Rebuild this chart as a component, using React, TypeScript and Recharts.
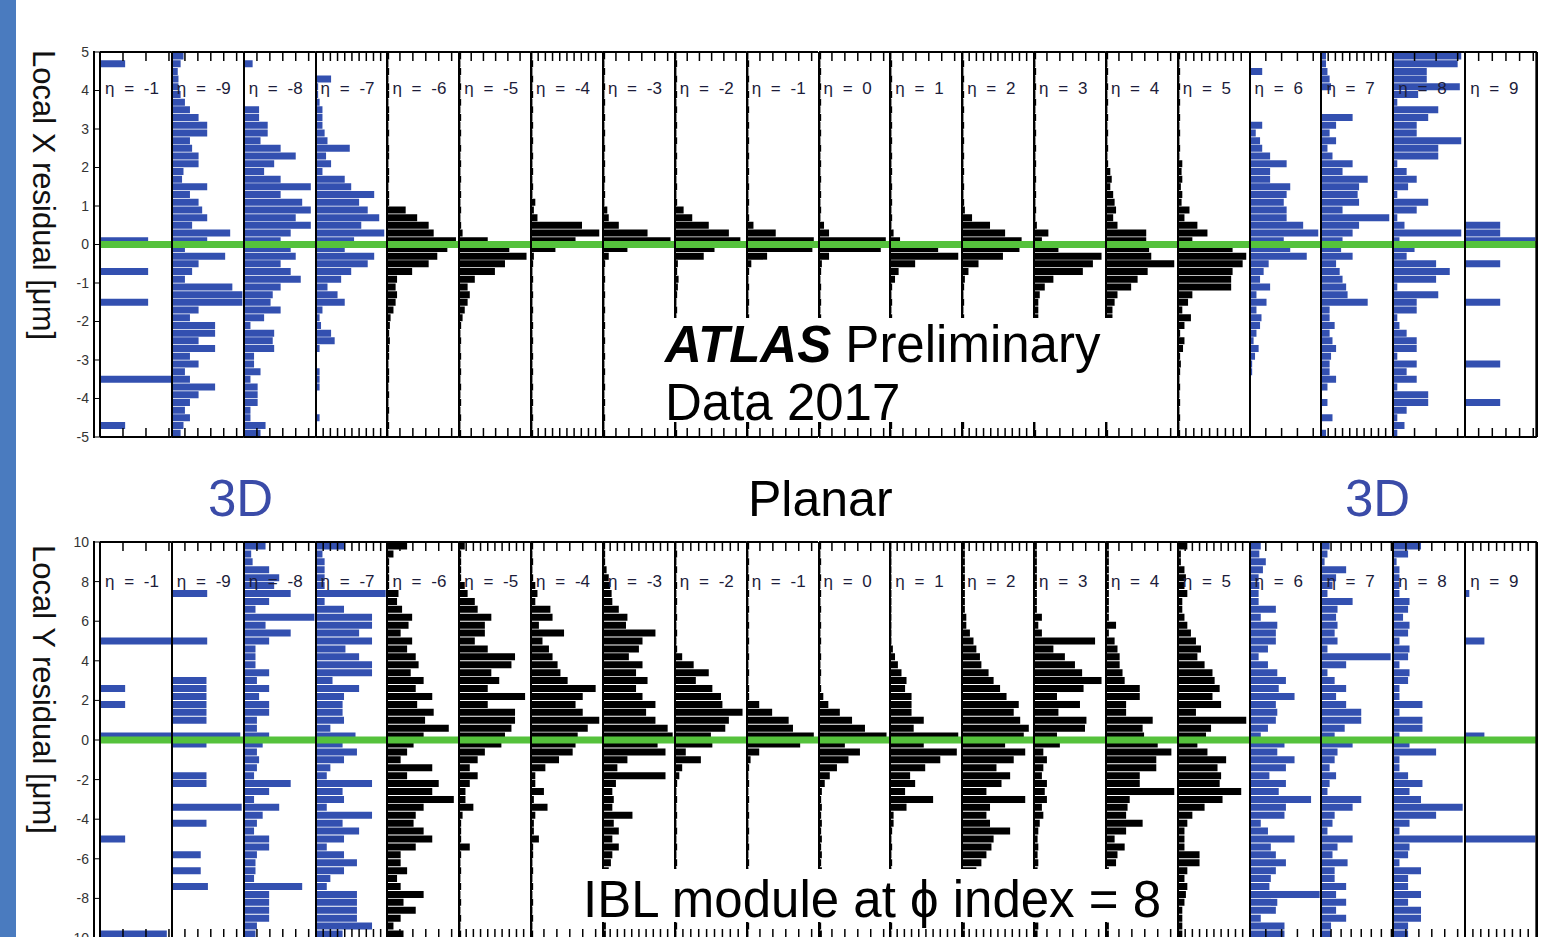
import React from "react"
import { BarChart, Bar, XAxis, YAxis, ReferenceLine } from "recharts"

const FONT = "'Liberation Sans', Arial, Helvetica, sans-serif"
const BLUE = "#3350b0"
const GREEN = "#55c23c"

const etaLabels = [
  "η = -1", "η = -9", "η = -8", "η = -7", "η = -6", "η = -5", "η = -4", "η = -3", "η = -2", "η = -1",
  "η = 0", "η = 1", "η = 2", "η = 3", "η = 4", "η = 5", "η = 6", "η = 7", "η = 8", "η = 9",
]

const panelColors = [
  BLUE, BLUE, BLUE, BLUE, "#000", "#000", "#000", "#000", "#000", "#000",
  "#000", "#000", "#000", "#000", "#000", "#000", BLUE, BLUE, BLUE, BLUE,
]

// bin centres, top bin first (Local X: 0.2 wide, Local Y: 0.4 wide)
const topBins = [
  4.9, 4.7, 4.5, 4.3, 4.1, 3.9, 3.7, 3.5, 3.3, 3.1,
  2.9, 2.7, 2.5, 2.3, 2.1, 1.9, 1.7, 1.5, 1.3, 1.1,
  0.9, 0.7, 0.5, 0.3, 0.1, -0.1, -0.3, -0.5, -0.7, -0.9,
  -1.1, -1.3, -1.5, -1.7, -1.9, -2.1, -2.3, -2.5, -2.7, -2.9,
  -3.1, -3.3, -3.5, -3.7, -3.9, -4.1, -4.3, -4.5, -4.7, -4.9,
]
const bottomBins = [
  9.8, 9.4, 9.0, 8.6, 8.2, 7.8, 7.4, 7.0, 6.6, 6.2,
  5.8, 5.4, 5.0, 4.6, 4.2, 3.8, 3.4, 3.0, 2.6, 2.2,
  1.8, 1.4, 1.0, 0.6, 0.2, -0.2, -0.6, -1.0, -1.4, -1.8,
  -2.2, -2.6, -3.0, -3.4, -3.8, -4.2, -4.6, -5.0, -5.4, -5.8,
  -6.2, -6.6, -7.0, -7.4, -7.8, -8.2, -8.6, -9.0, -9.4, -9.8,
]

const topTicks = [-5, -4, -3, -2, -1, 0, 1, 2, 3, 4, 5]
const bottomTicks = [-10, -8, -6, -4, -2, 0, 2, 4, 6, 8, 10]

// spacing of the small ticks on each panel, in % of panel width
const topTickSteps = [32, 18, 18, 10, 18, 17, 10, 18, 17, 18, 18, 18, 10, 18, 18, 11, 22, 10, 30, 19]
const bottomTickSteps = [32, 18, 18, 10, 18, 10, 18, 10, 11, 18, 18, 10, 10, 18, 18, 10, 22, 14, 18, 11]

// Local X residual histograms, bar length in % of panel width
const topEtaM10 = [0,35,0,0,0,0,0,0,0,0, 0,0,0,0,0,0,0,0,0,0, 0,0,0,0,67,0,0,0,67,0, 0,0,67,0,0,0,0,0,0,0, 0,0,100,0,0,0,0,0,35,0]
const topEtaM9 = [16,12,8,9,9,12,18,25,37,49, 49,25,28,37,37,16,14,49,25,37, 42,49,28,81,49,18,74,37,28,18, 84,98,98,37,25,60,60,37,60,25, 37,18,25,60,37,25,18,25,16,12]
const topEtaM8 = [0,12,0,0,0,0,0,21,21,33, 33,23,51,72,42,28,51,93,51,81, 93,72,93,65,51,65,72,51,65,79, 51,40,37,51,28,9,42,40,42,14, 14,23,9,19,19,19,9,9,30,23]
const topEtaM7 = [0,0,0,21,3,3,5,9,9,9, 12,16,47,14,21,9,40,49,81,60, 72,88,63,95,53,40,81,72,49,35, 16,30,40,9,5,7,21,26,5,0, 0,5,5,5,0,0,0,5,0,0]
const topEtaM6 = [3,2,3,2,3,3,2,3,3,2, 3,2,3,3,2,3,3,2,3,3, 26,42,58,65,96,84,70,58,35,14, 12,14,12,9,5,4,3,4,3,3, 2,3,3,2,3,2,3,2,3,2]
const topEtaM5 = [3,2,3,2,3,2,3,2,3,2, 3,2,3,2,3,2,3,2,3,2, 3,2,3,5,40,70,94,64,50,22, 12,15,12,8,5,3,2,3,2,3, 2,3,2,3,2,3,2,3,2,3]
const topEtaM4 = [2,3,2,3,2,3,2,3,2,3, 2,3,2,3,2,3,2,3,2,6, 4,9,71,95,62,34,4,3,2,3, 2,3,2,3,2,3,2,3,2,3, 2,3,2,3,2,3,2,3,2,3]
const topEtaM3 = [3,2,3,2,3,2,3,2,3,2, 3,2,3,2,3,2,3,2,3,2, 6,8,22,62,94,34,8,3,2,3, 2,3,2,3,2,3,2,3,2,3, 2,3,2,3,2,3,2,3,2,3]
const topEtaM2 = [2,3,2,3,2,3,2,3,2,3, 2,3,2,3,2,3,2,3,2,3, 12,24,47,75,91,55,40,4,3,5, 4,3,2,3,2,3,2,3,2,3, 2,3,2,3,2,3,2,3,2,3]
const topEtaM1 = [2,3,2,3,2,3,2,3,2,3, 2,3,2,3,2,3,2,3,2,3, 2,3,9,40,93,91,28,6,3,2, 3,2,3,2,3,2,3,2,3,2, 3,2,3,2,3,2,3,2,3,2]
const topEta0 = [3,2,3,2,3,2,3,2,3,2, 3,2,3,2,3,2,3,2,3,2, 3,2,7,14,93,86,14,4,3,2, 3,2,3,2,3,2,3,2,3,2, 3,2,3,2,3,2,3,2,3,2]
const topEta1 = [2,3,2,3,2,3,2,3,2,3, 2,3,2,3,2,3,2,3,2,3, 2,3,2,5,14,67,95,35,12,7, 3,2,3,2,3,2,3,2,3,2, 3,2,3,2,3,2,3,2,3,2]
const topEta2 = [2,3,2,3,2,3,2,3,2,3, 2,3,2,3,2,3,2,3,2,3, 4,14,39,60,83,80,57,23,9,4, 3,2,3,2,3,2,3,2,3,2, 3,2,3,2,3,2,3,2,3,2]
const topEta3 = [3,2,3,2,3,2,3,2,3,2, 3,2,3,2,3,2,3,2,3,2, 3,2,4,20,11,34,94,82,68,27, 15,8,6,6,6,3,4,3,2,3, 2,3,2,3,2,3,2,3,2,3]
const topEta4 = [3,2,3,2,3,2,3,2,3,2, 3,2,3,2,3,6,8,6,10,12, 14,10,16,56,56,60,63,95,58,44, 35,16,12,9,9,9,4,3,4,3, 2,3,2,3,2,3,2,3,2,3]
const topEta5 = [3,2,3,2,3,2,3,2,3,2, 3,2,3,2,6,5,6,4,6,5, 16,9,27,41,20,76,95,90,76,74, 74,20,14,6,18,9,3,9,7,3, 4,3,2,3,2,3,2,3,2,3]
const topEta6 = [0,0,17,0,0,0,0,0,0,17, 8,14,17,28,51,28,28,56,51,47, 51,51,74,95,47,56,79,26,19,14, 28,9,23,9,16,14,9,5,12,7, 3,3,0,0,0,0,0,0,0,0]
const topEta7 = [7,7,9,12,14,0,0,0,44,21, 12,21,9,16,44,30,65,53,51,53, 30,95,53,44,30,28,44,21,26,30, 35,37,65,12,12,19,12,16,21,14, 12,12,21,9,0,9,0,16,0,7]
const topEta8 = [95,90,47,47,93,35,6,63,49,33, 33,95,63,63,6,19,33,21,6,49, 33,6,16,95,9,30,19,60,79,60, 6,63,33,33,6,9,19,33,33,6, 33,19,33,6,49,49,19,6,16,6]
const topEta9 = [0,0,0,0,0,0,0,0,0,0, 0,0,0,0,0,0,0,0,0,0, 0,0,49,49,98,0,0,49,0,0, 0,0,49,0,0,0,0,0,0,0, 49,0,0,0,0,49,0,0,0,0]

// Local Y residual histograms, bar length in % of panel width
const botEtaM10 = [0,0,0,0,0,0,0,0,0,0, 0,0,100,0,0,0,0,0,35,0, 35,0,0,0,100,0,0,0,0,0, 0,0,0,0,0,0,0,35,0,0, 0,0,0,0,0,0,0,0,0,93]
const botEtaM9 = [0,0,0,0,0,0,49,0,0,0, 0,0,49,0,0,0,0,48,48,48, 48,48,48,0,95,48,0,0,0,48, 48,0,0,97,0,48,0,0,0,40, 0,40,0,50,0,0,0,0,0,0]
const botEtaM8 = [30,10,12,35,49,42,65,35,16,98, 30,65,35,16,16,16,35,18,35,21, 35,35,18,18,35,26,18,21,18,14, 65,35,14,49,26,18,14,35,35,18, 16,16,14,81,35,35,35,35,18,16]
const botEtaM7 = [39,9,12,12,12,12,97,12,39,78, 78,60,78,41,60,78,78,23,60,39, 37,37,39,20,55,37,57,39,20,15, 78,37,39,15,78,37,60,39,15,39, 57,39,20,15,57,57,57,57,78,37]
const botEtaM6 = [28,9,3,3,3,3,16,14,21,35, 30,19,35,28,40,44,33,51,40,63, 42,65,53,86,51,37,28,19,63,28, 72,63,93,51,40,37,51,63,40,19, 19,28,14,19,51,23,40,19,9,23]
const botEtaM5 = [8,3,3,3,3,8,12,22,26,45, 36,36,22,40,78,73,45,56,40,92, 40,78,78,73,64,59,36,26,15,26, 15,9,9,20,5,3,3,3,15,3, 2,3,2,3,2,3,2,3,2,3]
const botEtaM4 = [3,2,3,2,3,6,9,6,27,30, 11,46,16,25,30,37,41,51,90,72, 62,72,95,79,65,62,58,39,20,6, 6,18,4,23,6,4,4,11,3,3, 2,3,2,3,2,3,2,3,2,3]
const botEtaM3 = [3,3,3,5,8,10,12,13,22,34, 32,73,55,50,36,55,46,62,46,55, 73,60,73,90,97,76,87,34,20,87, 18,13,15,13,41,15,22,13,22,13, 11,8,8,8,6,5,5,4,4,4]
const botEtaM2 = [2,3,2,3,2,3,2,3,2,3, 2,3,2,3,10,26,47,29,52,64, 66,94,75,70,50,52,15,36,10,6, 3,2,3,2,3,2,3,2,3,2, 3,2,3,2,3,2,3,2,3,2]
const botEtaM1 = [3,2,3,2,3,2,3,2,3,2, 3,2,3,2,3,2,3,2,3,3, 17,35,58,64,93,74,17,5,3,2, 3,2,3,2,3,2,3,2,3,2, 3,2,3,2,3,2,3,2,3,2]
const botEta0 = [3,2,3,2,3,2,3,2,3,2, 3,2,3,2,3,2,3,2,3,6, 13,29,46,64,94,36,57,41,25,15, 8,4,3,4,3,4,3,4,3,4, 3,4,3,4,3,4,3,4,3,4]
const botEta1 = [2,2,2,2,2,2,2,2,2,2, 2,2,2,4,7,11,16,23,21,30, 30,30,47,33,95,47,93,70,49,28, 35,21,60,23,5,5,3,2,3,2, 3,2,3,2,3,2,3,2,3,2]
const botEta2 = [4,4,4,4,4,4,4,4,4,6, 6,11,16,20,25,27,37,44,53,62, 79,72,81,93,86,60,88,72,48,67, 55,34,88,39,34,39,67,44,41,34, 27,20,15,12,10,8,6,5,4,4]
const botEta3 = [4,4,4,4,4,4,4,4,4,11, 6,11,85,27,43,57,67,94,69,32, 64,34,73,71,32,36,13,18,13,11, 18,15,18,11,13,8,6,5,6,5, 6,5,6,5,6,5,6,5,6,5]
const botEta4 = [4,4,4,4,4,4,4,4,4,4, 14,4,12,16,19,19,23,26,47,47, 28,28,65,51,53,72,91,70,70,47, 47,95,33,30,28,51,28,12,26,16, 14,4,4,4,4,4,4,4,4,4]
const botEta5 = [13,4,4,9,11,9,13,6,6,9, 13,18,25,32,27,37,48,51,58,48, 60,25,95,46,39,27,41,67,55,60, 58,88,62,37,20,13,9,9,9,30, 30,13,9,13,11,9,6,6,6,6]
const botEta6 = [15,13,22,18,12,13,12,12,36,15, 38,36,36,25,12,25,38,50,40,62, 36,38,36,25,15,48,38,62,50,27, 50,40,85,50,48,15,25,62,29,36, 50,36,29,27,97,38,36,15,48,48]
const botEta7 = [12,9,5,35,21,16,9,44,23,21, 23,19,23,9,97,35,9,19,35,21, 35,56,56,33,19,44,23,19,12,21, 12,9,56,44,19,16,9,44,23,16, 37,19,19,35,21,35,21,35,14,14]
const botEta8 = [39,21,5,9,9,9,9,23,21,14, 23,21,9,23,21,9,23,21,9,9, 41,9,41,41,9,23,60,9,9,21, 41,23,39,97,60,23,9,97,23,21, 9,39,21,21,39,21,39,39,21,21]
const botEta9 = [0,0,0,0,0,0,6,0,0,0, 0,0,27,0,0,0,0,0,0,0, 0,0,0,0,27,0,0,0,0,0, 0,0,0,0,0,0,0,98,0,0, 0,0,0,0,0,0,0,0,0,0]

const topRows = [
  topEtaM10, topEtaM9, topEtaM8, topEtaM7, topEtaM6, topEtaM5, topEtaM4, topEtaM3, topEtaM2, topEtaM1,
  topEta0, topEta1, topEta2, topEta3, topEta4, topEta5, topEta6, topEta7, topEta8, topEta9,
]
const bottomRows = [
  botEtaM10, botEtaM9, botEtaM8, botEtaM7, botEtaM6, botEtaM5, botEtaM4, botEtaM3, botEtaM2, botEtaM1,
  botEta0, botEta1, botEta2, botEta3, botEta4, botEta5, botEta6, botEta7, botEta8, botEta9,
]

const PANEL_X0 = 100
const PANEL_W = 71.85
const LABEL_W = 40
const PAD = 10

type PanelProps = {
  bins: number[]
  counts: number[]
  color: string
  left: number
  top: number
  height: number
  domain: [number, number]
  yTicks: number[]
  step: number
  first: boolean
  last: boolean
}

function Panel({ bins, counts, color, left, top, height, domain, yTicks, step, first, last }: PanelProps) {
  const data = bins.map((c, i) => ({ c, v: counts[i] }))
  const ticks: number[] = []
  for (let t = step; t < 99; t += step) ticks.push(t)
  const lw = first ? LABEL_W : 1
  const rw = last ? 1 : 0
  const xProps = {
    type: "number" as const,
    domain: [0, 100],
    ticks,
    interval: 0,
    height: 1,
    tickSize: -9,
    tickFormatter: () => "",
    allowDataOverflow: true,
    axisLine: { stroke: "#000", strokeWidth: 2 },
    tickLine: { stroke: "#000", strokeWidth: 1.5 },
  }
  return (
    <div style={{ position: "absolute", left: left - lw, top: top - 1 - PAD }}>
      <BarChart
        layout="vertical"
        width={PANEL_W + lw + rw}
        height={height + 2 + 2 * PAD}
        data={data}
        margin={{ top: PAD, right: 0, bottom: PAD, left: 0 }}
        barCategoryGap="6%"
      >
        <XAxis xAxisId="b" orientation="bottom" {...xProps} />
        <XAxis xAxisId="t" orientation="top" {...xProps} />
        <YAxis
          yAxisId="l"
          type="number"
          dataKey="c"
          domain={domain}
          reversed
          allowDataOverflow
          width={lw}
          ticks={yTicks}
          interval={0}
          tick={first ? { fontSize: 14, fill: "#333", fontFamily: FONT } : false}
          tickLine={first ? { stroke: "#000" } : false}
          tickSize={6}
          tickMargin={5}
          axisLine={{ stroke: "#000", strokeWidth: 2 }}
        />
        {last && (
          <YAxis
            yAxisId="r"
            orientation="right"
            type="number"
            dataKey="c"
            domain={domain}
            reversed
            allowDataOverflow
            width={1}
            ticks={yTicks}
            interval={0}
            tick={false}
            tickSize={-6}
            tickLine={{ stroke: "#000", strokeWidth: 1.5 }}
            axisLine={{ stroke: "#000", strokeWidth: 3 }}
          />
        )}
        <Bar xAxisId="b" yAxisId="l" dataKey="v" fill={color} isAnimationActive={false} />
        <ReferenceLine xAxisId="b" yAxisId="l" y={0} stroke={GREEN} strokeWidth={7} />
      </BarChart>
    </div>
  )
}

type RowProps = {
  rows: number[][]
  bins: number[]
  top: number
  height: number
  domain: [number, number]
  yTicks: number[]
  steps: number[]
  labelTop: number
}

function Row({ rows, bins, top, height, domain, yTicks, steps, labelTop }: RowProps) {
  return (
    <>
      <div style={{ position: "absolute", left: 93, top: top - 1, width: 2, height: height + 2, background: "#000" }} />
      {rows.map((counts, i) => (
        <Panel
          key={i}
          bins={bins}
          counts={counts}
          color={panelColors[i]}
          left={PANEL_X0 + i * PANEL_W}
          top={top}
          height={height}
          domain={domain}
          yTicks={yTicks}
          step={steps[i]}
          first={i === 0}
          last={i === rows.length - 1}
        />
      ))}
      {etaLabels.map((t, i) => (
        <div
          key={"l" + i}
          style={{
            position: "absolute",
            left: PANEL_X0 + i * PANEL_W + 5,
            top: labelTop,
            fontSize: 17,
            lineHeight: 1,
            wordSpacing: 5,
            color: "#1c1c3a",
            whiteSpace: "nowrap",
          }}
        >
          {t}
        </div>
      ))}
    </>
  )
}

const big = { position: "absolute" as const, fontSize: 51, lineHeight: 1, whiteSpace: "nowrap" as const }

export default function App() {
  return (
    <div
      style={{
        position: "absolute",
        left: 0,
        top: 0,
        width: 1563,
        height: 937,
        overflow: "hidden",
        background: "#fff",
        fontFamily: FONT,
      }}
    >
      <div style={{ position: "absolute", left: 0, top: 0, width: 16, height: 937, background: "#4a7bbf" }} />

      <div style={{ position: "absolute", left: 28, top: 50, fontSize: 31, lineHeight: 1, writingMode: "vertical-rl", whiteSpace: "nowrap", color: "#111" }}>
        Local X residual [μm]
      </div>
      <div style={{ position: "absolute", left: 28, top: 545, fontSize: 31, lineHeight: 1, writingMode: "vertical-rl", whiteSpace: "nowrap", color: "#111" }}>
        Local Y residual [μm]
      </div>

      <Row rows={topRows} bins={topBins} top={52} height={385} domain={[-5, 5]} yTicks={topTicks} steps={topTickSteps} labelTop={80} />
      <Row rows={bottomRows} bins={bottomBins} top={542} height={396} domain={[-10, 10]} yTicks={bottomTicks} steps={bottomTickSteps} labelTop={573} />

      <div style={{ ...big, left: 208, top: 473, color: "#3a4ba8" }}>3D</div>
      <div style={{ ...big, left: 748, top: 474, fontSize: 50, color: "#000" }}>Planar</div>
      <div style={{ ...big, left: 1345, top: 473, color: "#3a4ba8" }}>3D</div>

      <div style={{ position: "absolute", left: 640, top: 318, width: 532, height: 104, background: "#fff" }} />
      <div style={{ ...big, left: 665, top: 319 }}>
        <span style={{ fontWeight: 700, fontStyle: "italic" }}>ATLAS</span> Preliminary
      </div>
      <div style={{ ...big, left: 665, top: 377 }}>Data 2017</div>

      <div style={{ position: "absolute", left: 570, top: 869, width: 602, height: 53, background: "#fff" }} />
      <div style={{ ...big, left: 583, top: 874 }}>IBL module at ϕ index = 8</div>
    </div>
  )
}
